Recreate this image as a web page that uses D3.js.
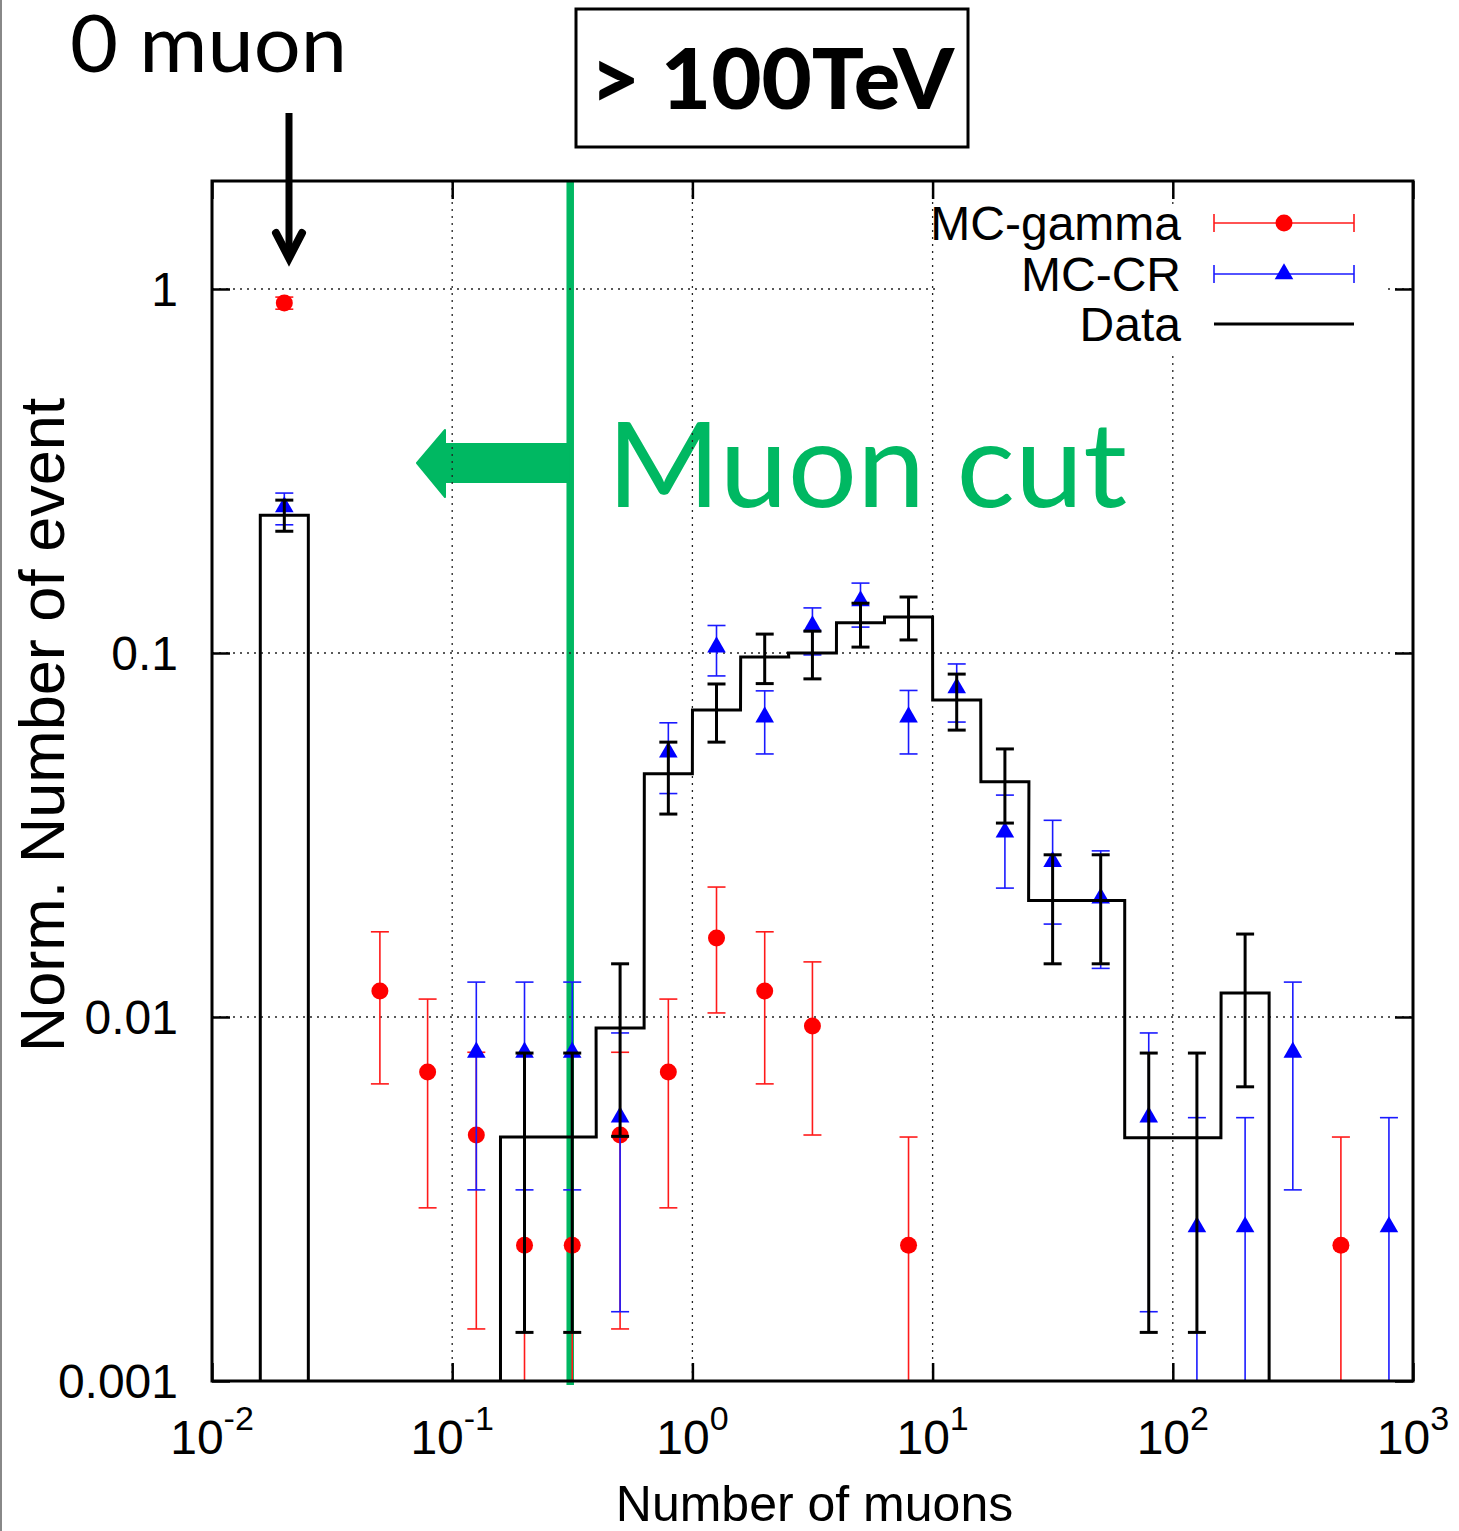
<!DOCTYPE html>
<html>
<head>
<meta charset="utf-8">
<script src="https://cdn.jsdelivr.net/npm/d3@7"></script>
<style>
  body { margin: 0; background: #fff; }
  svg { display: block; }
  .tick line { stroke: #000; stroke-width: 2.5; }
</style>
</head>
<body>
<div id="chart"></div>
<script>
// ---- data ----
// black histogram ("Data"), one entry per bin centre
const dataX  = [0.2, 0.316, 0.5, 0.794, 1.26, 2, 3.16, 5.01, 7.94, 12.6, 20, 31.6, 50.1, 79.4, 126, 200];
const dataY  = [0.00468, 0.00468, 0.00933, 0.0466, 0.0697, 0.0975, 0.100, 0.121, 0.1256, 0.0743, 0.0443, 0.0209, 0.0209, 0.00466, 0.00466, 0.01164];
const dataLo = [0.00136, 0.00136, 0.0047, 0.0361, 0.0569, 0.0824, 0.0849, 0.1038, 0.1086, 0.0614, 0.0341, 0.0140, 0.0140, 0.00136, 0.00136, 0.00643];
const dataHi = [0.00796, 0.00796, 0.0140, 0.0569, 0.0822, 0.1127, 0.1148, 0.137, 0.1425, 0.0875, 0.0545, 0.0279, 0.0279, 0.00796, 0.00796, 0.0169];

// the "0 muon" bin, drawn at 0.02
const zeroX = 0.02;
const zeroData = {y: 0.239, lo: 0.216, hi: 0.263};

// MC-gamma (red circles)
const gammaX  = [0.02, 0.05, 0.079, 0.126, 0.2, 0.316, 0.5, 0.794, 1.26, 2, 3.16, 7.94, 501];
const gammaY  = [0.915, 0.01178, 0.00706, 0.00474, 0.00236, 0.00236, 0.00474, 0.00706, 0.01648, 0.01178, 0.00945, 0.00236, 0.00236];
const gammaLo = [0.88, 0.00655, 0.00299, 0.00139, 0.0001, 0.0001, 0.00139, 0.00299, 0.01026, 0.00655, 0.00474, 0.0001, 0.0001];
const gammaHi = [0.95, 0.01714, 0.0112, 0.008, 0.00468, 0.00468, 0.008, 0.0112, 0.02275, 0.01714, 0.01417, 0.00468, 0.00468];

// MC-CR (blue triangles)
const crX  = [0.02, 0.126, 0.2, 0.316, 0.5, 0.794, 1.26, 2, 3.16, 5.01, 7.94, 12.6, 20, 31.6, 50.1, 79.4, 126, 200, 316, 794];
const crY  = [0.252, 0.008, 0.008, 0.008, 0.00531, 0.0534, 0.1038, 0.0667, 0.1186, 0.139, 0.0667, 0.0802, 0.0322, 0.0267, 0.0212, 0.00531, 0.00265, 0.00265, 0.008, 0.00265];
const crLo = [0.225, 0.00335, 0.00335, 0.00335, 0.00155, 0.0411, 0.0865, 0.0528, 0.0988, 0.1178, 0.0528, 0.0646, 0.0226, 0.0180, 0.0136, 0.00155, 0.0001, 0.0001, 0.00335, 0.0001];
const crHi = [0.275, 0.01247, 0.01247, 0.01247, 0.00904, 0.0643, 0.119, 0.0787, 0.133, 0.1556, 0.0789, 0.0933, 0.0407, 0.0347, 0.0286, 0.00904, 0.00529, 0.00529, 0.01247, 0.00529];

const muonCut = 0.31;
const xMajor = [0.01, 0.1, 1, 10, 100, 1000];
const xExp   = ["-2", "-1", "0", "1", "2", "3"];
const yMajor = [0.001, 0.01, 0.1, 1];
const yLabels = ["0.001", "0.01", "0.1", "1"];
const legendNames = ["MC-gamma", "MC-CR", "Data"];

// ---- layout ----
const W = 1459, H = 1531;
const plot = {left: 212, right: 1413, top: 181, bottom: 1381};
const GREEN = "#00b862";
const halfBin = Math.pow(10, 0.1); // bins are 0.2 decade wide

const svg = d3.select("#chart").append("svg")
  .attr("width", W).attr("height", H)
  .style("font-family", "'Liberation Sans', Arial, sans-serif");

/* scales */
const x = d3.scaleLog().domain([0.01, 1000]).range([plot.left, plot.right]);
const y = d3.scaleLog().domain([0.001, 1.98]).range([plot.bottom, plot.top]);

svg.append("defs").append("clipPath").attr("id", "clip")
  .append("rect")
  .attr("x", plot.left).attr("y", plot.top)
  .attr("width", plot.right - plot.left).attr("height", plot.bottom - plot.top);

// grey page edge on the left
svg.append("line").attr("x1", 1).attr("x2", 1).attr("y1", 0).attr("y2", H)
  .attr("stroke", "#888").attr("stroke-width", 2);

/* muon cut line and arrow (under the grid) */
svg.append("line")
  .attr("x1", x(muonCut)).attr("x2", x(muonCut))
  .attr("y1", plot.top).attr("y2", plot.bottom + 4)
  .attr("stroke", GREEN).attr("stroke-width", 7.5);

const ax = x(muonCut);
svg.append("path")
  .attr("d", `M${ax},444 L445,444 L445,430 L417,463 L445,497 L445,482 L${ax},482 Z`)
  .attr("fill", GREEN).attr("stroke", GREEN).attr("stroke-width", 2)
  .attr("stroke-linejoin", "round");

svg.append("text")
  .attr("x", 607).attr("y", 507)
  .attr("textLength", 520).attr("lengthAdjust", "spacingAndGlyphs")
  .style("font-family", "Lato, 'Open Sans', sans-serif")
  .style("font-size", "118px")
  .attr("fill", GREEN)
  .text("Muon cut");

/* grid */
const grid = svg.append("g").attr("stroke", "#222").attr("stroke-width", 1.3)
  .attr("stroke-dasharray", "2,5");
grid.selectAll(".gx").data(xMajor.slice(1, -1)).join("line")
  .attr("x1", d => x(d)).attr("x2", d => x(d))
  .attr("y1", plot.top).attr("y2", plot.bottom);
grid.selectAll(".gy").data(yMajor.slice(1)).join("line")
  .attr("x1", plot.left).attr("x2", plot.right)
  .attr("y1", d => y(d)).attr("y2", d => y(d));

/* axes: ticks all point inwards */
const xMinor = x.ticks().filter(d => !xMajor.includes(d));
const yMinor = y.ticks().filter(d => !yMajor.some(m => Math.abs(m - d) < 1e-9));

function ticks(axisFn, scale, major, minor, tr) {
  const g = svg.append("g").attr("transform", tr);
  g.call(axisFn(scale).tickValues(minor).tickSize(-9).tickFormat(""));
  g.call(axisFn(scale).tickValues(major).tickSize(-18).tickFormat(""));
  g.selectAll(".domain").remove();
  return g;
}
ticks(d3.axisLeft, y, yMajor, yMinor, `translate(${plot.left},0)`);
ticks(d3.axisRight, y, yMajor, yMinor, `translate(${plot.right},0)`);
ticks(d3.axisBottom, x, xMajor, xMinor, `translate(0,${plot.bottom})`);
ticks(d3.axisTop, x, xMajor, xMinor, `translate(0,${plot.top})`);

/* y tick labels */
svg.append("g").selectAll("text").data(yMajor).join("text")
  .attr("x", plot.left - 34).attr("y", d => y(d)).attr("dy", "0.36em")
  .attr("text-anchor", "end").style("font-size", "48px")
  .text((d, i) => yLabels[i]);

/* x tick labels 10^n */
const xl = svg.append("g").selectAll("text").data(xMajor).join("text")
  .attr("x", d => x(d)).attr("y", 1454)
  .attr("text-anchor", "middle").style("font-size", "48px");
xl.append("tspan").text("10");
xl.append("tspan").attr("dy", -24).style("font-size", "34px").text((d, i) => xExp[i]);

/* axis titles */
svg.append("text")
  .attr("x", (plot.left + plot.right) / 2 + 2).attr("y", 1521)
  .attr("text-anchor", "middle").style("font-size", "50px")
  .text("Number of muons");
svg.append("text")
  .attr("transform", "translate(64,725) rotate(-90)")
  .attr("text-anchor", "middle").style("font-size", "63px")
  .text("Norm. Number of event");

/* data layer */
const layer = svg.append("g").attr("clip-path", "url(#clip)");

function errBars(g, xs, lo, hi, color, width) {
  const e = g.append("g").attr("stroke", color).attr("stroke-width", width);
  xs.forEach((xv, i) => {
    const px = x(xv);
    e.append("line").attr("x1", px).attr("x2", px).attr("y1", y(lo[i])).attr("y2", y(hi[i]));
    [lo[i], hi[i]].forEach(v => {
      e.append("line").attr("x1", px - 9).attr("x2", px + 9).attr("y1", y(v)).attr("y2", y(v));
    });
  });
}

// MC-gamma
errBars(layer, gammaX, gammaLo, gammaHi, "#ff1a1a", 1.6);
layer.append("g").selectAll("circle").data(gammaX).join("circle")
  .attr("cx", d => x(d)).attr("cy", (d, i) => y(gammaY[i])).attr("r", 8.5)
  .attr("fill", "#ff0000");

// MC-CR
errBars(layer, crX, crLo, crHi, "#1a1aff", 1.6);
const tri = d3.symbol().type(d3.symbolTriangle).size(150);
layer.append("g").selectAll("path").data(crX).join("path")
  .attr("transform", (d, i) => `translate(${x(d)},${y(crY[i])})`)
  .attr("d", tri).attr("fill", "#0000ff");

// Data: 0-muon bar + step histogram
layer.append("rect")
  .attr("x", x(zeroX / halfBin)).attr("width", x(zeroX * halfBin) - x(zeroX / halfBin))
  .attr("y", y(zeroData.y)).attr("height", plot.bottom - y(zeroData.y) + 5)
  .attr("fill", "none").attr("stroke", "#000").attr("stroke-width", 3);

const steps = [];
dataX.forEach((xv, i) => {
  steps.push([xv / halfBin, dataY[i]]);
  steps.push([xv * halfBin, dataY[i]]);
});
steps.unshift([dataX[0] / halfBin, 0.0005]);
steps.push([dataX[dataX.length - 1] * halfBin, 0.0005]);
layer.append("path")
  .attr("d", d3.line().x(d => x(d[0])).y(d => y(d[1]))(steps))
  .attr("fill", "none").attr("stroke", "#000").attr("stroke-width", 3)
  .attr("stroke-linejoin", "miter");

errBars(layer, [zeroX].concat(dataX), [zeroData.lo].concat(dataLo), [zeroData.hi].concat(dataHi), "#000", 3);

/* frame */
svg.append("rect")
  .attr("x", plot.left).attr("y", plot.top)
  .attr("width", plot.right - plot.left).attr("height", plot.bottom - plot.top)
  .attr("fill", "none").attr("stroke", "#000").attr("stroke-width", 3);

/* legend */
const lg = svg.append("g");
lg.append("rect").attr("x", 937).attr("y", 204).attr("width", 448).attr("height", 152)
  .attr("fill", "#fff");
const rowY = [223, 274, 324];
legendNames.forEach((name, i) => {
  lg.append("text").attr("x", 1181).attr("y", rowY[i] + 17)
    .attr("text-anchor", "end").style("font-size", "48px").text(name);
});
[["#ff1a1a", 0], ["#1a1aff", 1]].forEach(([c, i]) => {
  const g = lg.append("g").attr("stroke", c).attr("stroke-width", 1.6);
  g.append("line").attr("x1", 1214).attr("x2", 1354).attr("y1", rowY[i]).attr("y2", rowY[i]);
  g.append("line").attr("x1", 1214).attr("x2", 1214).attr("y1", rowY[i] - 9).attr("y2", rowY[i] + 9);
  g.append("line").attr("x1", 1354).attr("x2", 1354).attr("y1", rowY[i] - 9).attr("y2", rowY[i] + 9);
});
lg.append("circle").attr("cx", 1284).attr("cy", rowY[0]).attr("r", 8.5).attr("fill", "#ff0000");
lg.append("path").attr("transform", `translate(1284,${rowY[1]})`).attr("d", tri).attr("fill", "#0000ff");
lg.append("line").attr("x1", 1214).attr("x2", 1354).attr("y1", rowY[2]).attr("y2", rowY[2])
  .attr("stroke", "#000").attr("stroke-width", 3);

/* annotations */
svg.append("text")
  .attr("x", 70).attr("y", 72)
  .attr("textLength", 277).attr("lengthAdjust", "spacingAndGlyphs")
  .style("font-family", "Lato, 'Open Sans', sans-serif")
  .style("font-size", "80px")
  .text("0 muon");
svg.append("line").attr("x1", 289).attr("x2", 289).attr("y1", 113).attr("y2", 254)
  .attr("stroke", "#000").attr("stroke-width", 7);
svg.append("path").attr("d", "M276,233 L289,258 L302,233")
  .attr("fill", "none").attr("stroke", "#000").attr("stroke-width", 8)
  .attr("stroke-linecap", "round").attr("stroke-linejoin", "miter");

svg.append("rect").attr("x", 576).attr("y", 9).attr("width", 392).attr("height", 138)
  .attr("fill", "none").attr("stroke", "#000").attr("stroke-width", 3);
svg.append("text")
  .attr("x", 590).attr("y", 109)
  .attr("textLength", 364).attr("lengthAdjust", "spacingAndGlyphs")
  .style("font-family", "Lato, 'Open Sans', sans-serif")
  .style("font-weight", "900")
  .style("font-size", "84px")
  .text("> 100TeV");
</script>
</body>
</html>
